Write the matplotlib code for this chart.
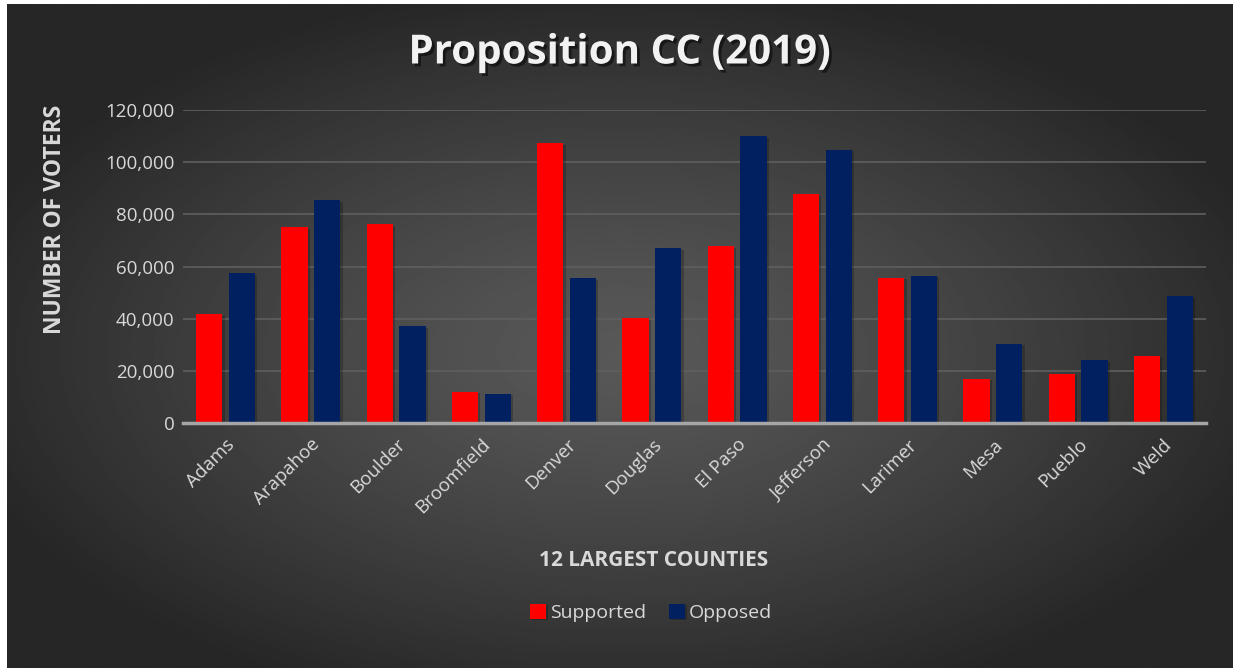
import matplotlib.pyplot as plt
import matplotlib.patheffects as pe
import numpy as np
from matplotlib.ticker import FuncFormatter

counties = ["Adams", "Arapahoe", "Boulder", "Broomfield", "Denver", "Douglas",
            "El Paso", "Jefferson", "Larimer", "Mesa", "Pueblo", "Weld"]
supported = [41700, 75000, 76200, 12000, 107200, 40100,
             67700, 87700, 55600, 17000, 18900, 25800]
opposed = [57400, 85400, 37000, 11300, 55400, 67000,
           109900, 104700, 56400, 30400, 24000, 48600]

plt.rcParams['font.family'] = ['Open Sans', 'DejaVu Sans']
txt = '#d9d9d9'

fig = plt.figure(figsize=(12.33, 6.68), dpi=100, facecolor='white')

# dark radial gradient background (white margin at left/top like the source)
bg = fig.add_axes([7 / 1233, 0, 1 - 7 / 1233, 1 - 4 / 668])
bg.set_axis_off()
gx, gy = np.meshgrid(np.linspace(-1, 1, 600), np.linspace(-1, 1, 330))
r = np.sqrt((gx * 0.95) ** 2 + ((gy - 0.05) * 0.95) ** 2)
shade = np.clip(0.345 - 0.18 * r ** 1.3, 0.15, 1)
bg.imshow(shade, cmap='gray', vmin=0, vmax=1, aspect='auto', extent=[0, 1, 0, 1])

ax = fig.add_axes([183 / 1233, 1 - 423 / 668, (1206 - 183) / 1233, (423 - 110) / 668])
ax.patch.set_alpha(0)

x = np.arange(len(counties))
w = 0.31
shadow = [pe.SimplePatchShadow(offset=(1.5, -1), shadow_rgbFace='black', alpha=0.22), pe.Normal()]
b1 = ax.bar(x - 0.192, supported, w, color='#ff0000', label='Supported', zorder=3)
b2 = ax.bar(x + 0.192, opposed, w, color='#002060', label='Opposed', zorder=3)
for b in list(b1) + list(b2):
    b.set_path_effects(shadow)

ax.set_xlim(-0.5, len(counties) - 0.5)
ax.set_ylim(0, 120000)
ax.set_yticks(range(0, 120001, 20000))
ax.yaxis.set_major_formatter(FuncFormatter(lambda v, p: f"{int(v):,}"))
ax.grid(axis='y', color='#5f5f5f', linewidth=1.2, zorder=0)
ax.set_axisbelow(True)
for s in ['top', 'right', 'left']:
    ax.spines[s].set_visible(False)
ax.spines['bottom'].set_color('#a6a6a6')
ax.spines['bottom'].set_linewidth(2.5)
ax.spines['bottom'].set_zorder(4)
ax.tick_params(axis='both', length=0, colors=txt, labelsize=13.5)
ax.tick_params(axis='y', pad=6)
ax.set_xticks(x)
ax.set_xticklabels(counties, rotation=45, ha='right', rotation_mode='anchor')
ax.tick_params(axis='x', pad=9)

ax.set_ylabel("NUMBER OF VOTERS", color=txt, fontsize=16.5, fontweight='bold')
ax.yaxis.set_label_coords(-0.113, 0.652)
fig.text(654 / 1233, 1 - 561 / 668, "12 LARGEST COUNTIES", color=txt, fontsize=15,
         fontweight='bold', ha='center', va='center')

fig.text(619 / 1233, 1 - 53 / 668, "Proposition CC (2019)", color='#f2f2f2', fontsize=29,
         fontweight='bold', ha='center', va='center',
         path_effects=[pe.withSimplePatchShadow(offset=(2, -2), shadow_rgbFace='black', alpha=0.5)])

leg = fig.legend(handles=[b1, b2], loc='center', bbox_to_anchor=(651 / 1233, 1 - 613 / 668),
                 ncol=2, frameon=False, fontsize=14, labelcolor=txt,
                 handlelength=0.8, handleheight=0.8, handletextpad=0.2, columnspacing=1.2)

fig.savefig('out.png', dpi=100, facecolor='white')
